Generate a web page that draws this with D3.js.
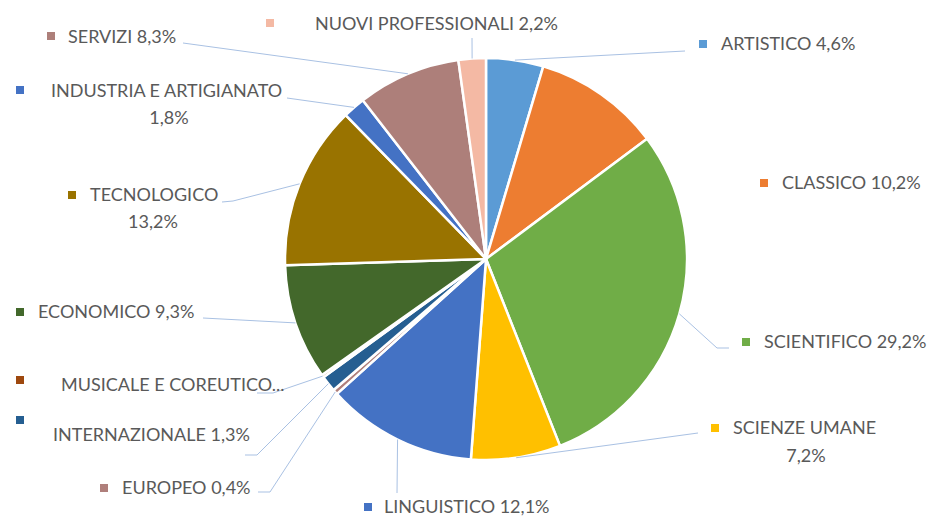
<!DOCTYPE html>
<html>
<head>
<meta charset="utf-8">
<script src="https://cdn.jsdelivr.net/npm/d3@7"></script>
<style>
  body { margin: 0; background: #fff; }
  svg text { font-family: Lato, "Open Sans", sans-serif; fill: #595959; }
</style>
</head>
<body>
<svg id="pie-svg"></svg>
<script>
// data
const categories = ['ARTISTICO', 'CLASSICO', 'SCIENTIFICO', 'SCIENZE UMANE', 'LINGUISTICO',
  'EUROPEO', 'INTERNAZIONALE', 'MUSICALE E COREUTICO', 'ECONOMICO', 'TECNOLOGICO',
  'INDUSTRIA E ARTIGIANATO', 'SERVIZI', 'NUOVI PROFESSIONALI'];
const values = [4.6, 10.2, 29.2, 7.2, 12.1, 0.4, 1.3, 0.2, 9.3, 13.2, 1.8, 8.3, 2.2];
const colors = ['#5B9BD5', '#ED7D31', '#70AD47', '#FFC000', '#4472C4', '#AF7F7B', '#255E91',
  '#9E480E', '#43682B', '#997300', '#4472C4', '#AD7F7A', '#F4B9A4'];

const width = 929, height = 516;
const cx = 486, cy = 259, radius = 201;

// label placement (Excel style, hand placed)
// m: marker, lines: [text, x, y, anchor], end/elbow: leader line
const fmt = v => d3.format('.1f')(v).replace('.', ',') + '%';
const layout = [
  { m: [703, 44], lines: [[null, 721, 44, 'start']], end: [685, 51] },
  { m: [764, 183], lines: [[null, 782, 183, 'start']] },
  { m: [746, 342], lines: [[null, 764, 342, 'start']], elbow: [717, 348], end: [729, 348] },
  { m: [715, 428], lines: [['SCIENZE UMANE', 733, 428, 'start'], ['%', 806, 456, 'middle']], end: [698, 433] },
  { m: [368, 507], lines: [[null, 384, 507, 'start']], end: [397, 493] },
  { m: [104, 488], lines: [[null, 122, 488, 'start']], elbow: [270, 492], end: [258, 492] },
  { m: [20, 420], lines: [[null, 53, 435, 'start']], elbow: [257, 455], end: [245, 455] },
  { m: [20, 380], lines: [['MUSICALE E COREUTICO...', 61, 385, 'start']], elbow: [273, 393], end: [257, 393] },
  { m: [20, 312], lines: [[null, 38, 312, 'start']], end: [203, 318] },
  { m: [72, 195], lines: [['TECNOLOGICO', 90, 195, 'start'], ['%', 153, 222, 'middle']], elbow: [233, 201], end: [222, 202] },
  { m: [20, 90], lines: [['INDUSTRIA E ARTIGIANATO', 51, 91, 'start'], ['%', 169, 118, 'middle']], end: [287, 98] },
  { m: [51, 36], lines: [[null, 68, 37, 'start']], end: [183, 43] },
  { m: [270, 23], lines: [[null, 315, 24, 'start']], end: [472, 38] }
];

const svg = d3.select('#pie-svg')
  .attr('width', width)
  .attr('height', height);

const pie = d3.pie().sort(null).value(d => d);
const arcs = pie(values);

const arc = d3.arc().innerRadius(0).outerRadius(radius);
const edgeArc = d3.arc().innerRadius(radius).outerRadius(radius);

const g = svg.append('g').attr('transform', `translate(${cx},${cy})`);

// slices
g.selectAll('path.slice')
  .data(arcs)
  .join('path')
  .attr('class', 'slice')
  .attr('d', arc)
  .attr('fill', (d, i) => colors[i])
  .attr('stroke', '#fff')
  .attr('stroke-width', 2.5)
  .attr('stroke-linejoin', 'round');

// leader lines
svg.append('g')
  .selectAll('path')
  .data(arcs.filter((d, i) => layout[i].end))
  .join('path')
  .attr('fill', 'none')
  .attr('stroke', '#A9C1E3')
  .attr('stroke-width', 1)
  .attr('d', d => {
    const l = layout[d.index];
    const [px, py] = edgeArc.centroid(d);
    const pts = [[cx + px, cy + py]];
    if (l.elbow) pts.push(l.elbow);
    pts.push(l.end);
    return d3.line()(pts);
  });

// labels
const labels = svg.append('g');
arcs.forEach((d, i) => {
  const l = layout[i];
  labels.append('rect')
    .attr('x', l.m[0] - 4)
    .attr('y', l.m[1] - 4)
    .attr('width', 8)
    .attr('height', 8)
    .attr('fill', colors[i]);
  l.lines.forEach(([txt, x, y, anchor]) => {
    let t;
    if (txt === null) t = categories[i] + ' ' + fmt(values[i]);
    else if (txt === '%') t = fmt(values[i]);
    else t = txt;
    labels.append('text')
      .attr('x', x)
      .attr('y', y)
      .attr('dy', '0.35em')
      .attr('text-anchor', anchor)
      .attr('font-size', 18)
      .text(t);
  });
});
</script>
</body>
</html>
